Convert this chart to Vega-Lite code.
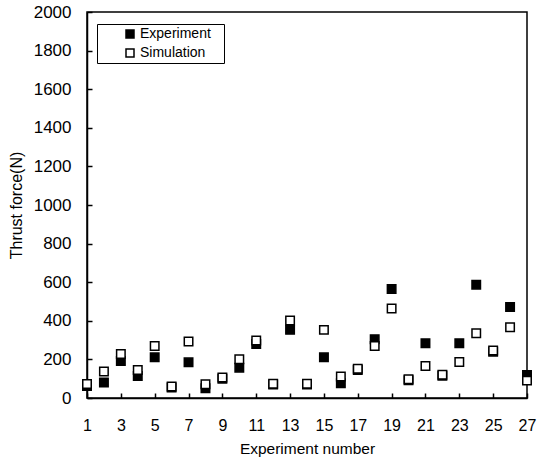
{
  "$schema": "https://vega.github.io/schema/vega-lite/v6.json",
  "width": 440,
  "height": 386,
  "autosize": {"type": "none"},
  "padding": {"left": 87, "top": 12, "right": 23, "bottom": 61},
  "background": "white",
  "config": {
    "font": "Liberation Sans",
    "view": {"stroke": "black", "strokeWidth": 1.5},
    "axis": {"grid": false, "domainColor": "black", "domainWidth": 1.5, "tickColor": "black", "tickWidth": 1.5, "labelColor": "black", "titleColor": "black", "titleFontWeight": "normal"}
  },
  "data": {
    "values": [
      {"n": 1, "series": "Experiment", "force": 62},
      {"n": 2, "series": "Experiment", "force": 80},
      {"n": 3, "series": "Experiment", "force": 192},
      {"n": 4, "series": "Experiment", "force": 114},
      {"n": 5, "series": "Experiment", "force": 211},
      {"n": 6, "series": "Experiment", "force": 55},
      {"n": 7, "series": "Experiment", "force": 185},
      {"n": 8, "series": "Experiment", "force": 50},
      {"n": 9, "series": "Experiment", "force": 100},
      {"n": 10, "series": "Experiment", "force": 157},
      {"n": 11, "series": "Experiment", "force": 280},
      {"n": 12, "series": "Experiment", "force": 70},
      {"n": 13, "series": "Experiment", "force": 353},
      {"n": 14, "series": "Experiment", "force": 70},
      {"n": 15, "series": "Experiment", "force": 211},
      {"n": 16, "series": "Experiment", "force": 76},
      {"n": 17, "series": "Experiment", "force": 145},
      {"n": 18, "series": "Experiment", "force": 305},
      {"n": 19, "series": "Experiment", "force": 565},
      {"n": 20, "series": "Experiment", "force": 92},
      {"n": 21, "series": "Experiment", "force": 284},
      {"n": 22, "series": "Experiment", "force": 115},
      {"n": 23, "series": "Experiment", "force": 284},
      {"n": 24, "series": "Experiment", "force": 587},
      {"n": 25, "series": "Experiment", "force": 240},
      {"n": 26, "series": "Experiment", "force": 471},
      {"n": 27, "series": "Experiment", "force": 119},
      {"n": 1, "series": "Simulation", "force": 72},
      {"n": 2, "series": "Simulation", "force": 137},
      {"n": 3, "series": "Simulation", "force": 228},
      {"n": 4, "series": "Simulation", "force": 145},
      {"n": 5, "series": "Simulation", "force": 270},
      {"n": 6, "series": "Simulation", "force": 59},
      {"n": 7, "series": "Simulation", "force": 293},
      {"n": 8, "series": "Simulation", "force": 71},
      {"n": 9, "series": "Simulation", "force": 106},
      {"n": 10, "series": "Simulation", "force": 201},
      {"n": 11, "series": "Simulation", "force": 298},
      {"n": 12, "series": "Simulation", "force": 74},
      {"n": 13, "series": "Simulation", "force": 402},
      {"n": 14, "series": "Simulation", "force": 74},
      {"n": 15, "series": "Simulation", "force": 353},
      {"n": 16, "series": "Simulation", "force": 111},
      {"n": 17, "series": "Simulation", "force": 152},
      {"n": 18, "series": "Simulation", "force": 270},
      {"n": 19, "series": "Simulation", "force": 464},
      {"n": 20, "series": "Simulation", "force": 97},
      {"n": 21, "series": "Simulation", "force": 166},
      {"n": 22, "series": "Simulation", "force": 121},
      {"n": 23, "series": "Simulation", "force": 187},
      {"n": 24, "series": "Simulation", "force": 336},
      {"n": 25, "series": "Simulation", "force": 246},
      {"n": 26, "series": "Simulation", "force": 367},
      {"n": 27, "series": "Simulation", "force": 90}
    ]
  },
  "mark": {"type": "point", "shape": "square", "filled": true, "size": 72, "stroke": "black", "strokeWidth": 1.5, "opacity": 1, "clip": false},
  "encoding": {
    "x": {
      "field": "n", "type": "quantitative",
      "scale": {"domain": [1, 27], "nice": false, "zero": false},
      "axis": {"values": [1, 3, 5, 7, 9, 11, 13, 15, 17, 19, 21, 23, 25, 27], "format": "d", "tickSize": -5, "labelPadding": 24, "labelFontSize": 16, "labelFlush": false, "title": "Experiment number", "titleFontSize": 15.5, "titlePadding": 8}
    },
    "y": {
      "field": "force", "type": "quantitative",
      "scale": {"domain": [0, 2000], "nice": false},
      "axis": {"values": [0, 200, 400, 600, 800, 1000, 1200, 1400, 1600, 1800, 2000], "format": "d", "tickSize": -5, "labelPadding": 21, "labelFontSize": 17, "title": "Thrust force(N)", "titleFontSize": 16, "titlePadding": 9}
    },
    "fill": {
      "field": "series", "type": "nominal",
      "scale": {"domain": ["Experiment", "Simulation"], "range": ["black", "white"]},
      "legend": {
        "title": "\u00a0", "titleOrient": "right", "titlePadding": 10, "titleFontSize": 10,
        "orient": "none", "legendX": 10, "legendY": 12,
        "fillColor": "white", "strokeColor": "black",
        "padding": 3, "symbolOffset": 23, "symbolType": "square", "symbolSize": 64,
        "symbolStrokeColor": "black", "symbolStrokeWidth": 1.5,
        "labelFontSize": 14, "labelColor": "black", "labelOffset": 3, "rowPadding": 5,
        "encode": {"legend": {"update": {"strokeWidth": {"value": 1.5}}}}
      }
    }
  }
}
